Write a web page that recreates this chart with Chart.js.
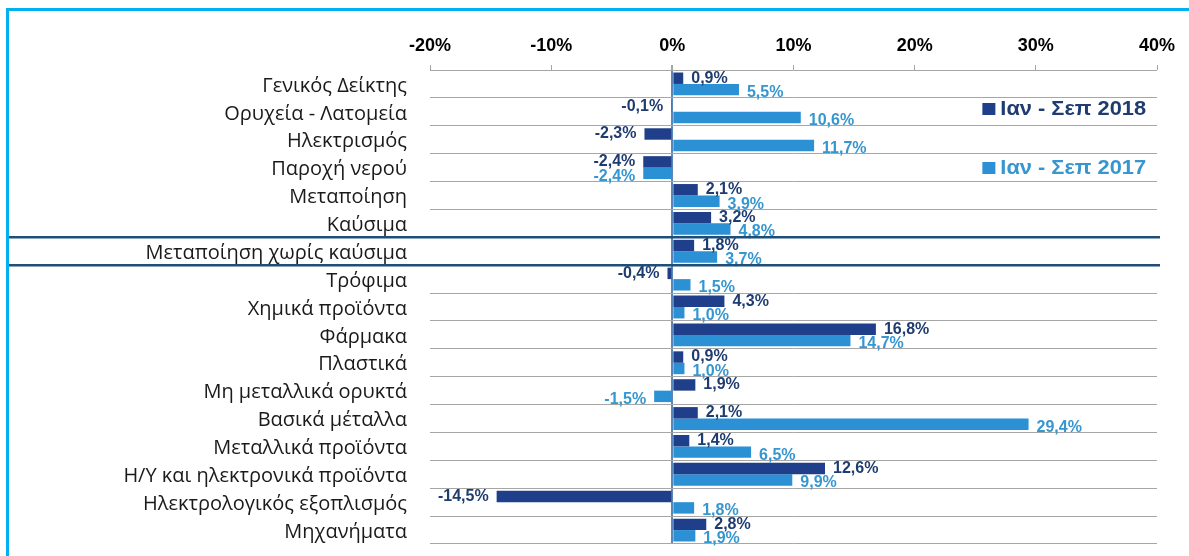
<!DOCTYPE html>
<html>
<head>
<meta charset="utf-8">
<script src="https://cdn.jsdelivr.net/npm/chart.js@4.4.0/dist/chart.umd.min.js"></script>
<style>
  body { margin: 0; background: #fff; }
  #wrap { position: relative; width: 1189px; height: 556px; overflow: hidden; }
  #frame { position: absolute; left: 6px; top: 8px; width: 1300px; height: 700px;
           border-top: 3px solid #00b0f0; border-left: 3px solid #00b0f0; pointer-events: none; }
</style>
</head>
<body>
<div id="wrap">
  <canvas id="chart" width="1189" height="556"></canvas>
  <div id="frame"></div>
</div>
<script>
const categories = [
  'Γενικός Δείκτης', 'Ορυχεία - Λατομεία', 'Ηλεκτρισμός', 'Παροχή νερού',
  'Μεταποίηση', 'Καύσιμα', 'Μεταποίηση χωρίς καύσιμα', 'Τρόφιμα',
  'Χημικά προϊόντα', 'Φάρμακα', 'Πλαστικά', 'Μη μεταλλικά ορυκτά',
  'Βασικά μέταλλα', 'Μεταλλικά προϊόντα', 'Η/Υ και ηλεκτρονικά προϊόντα',
  'Ηλεκτρολογικός εξοπλισμός', 'Μηχανήματα'
];
const values2018 = [0.9, -0.1, -2.3, -2.4, 2.1, 3.2, 1.8, -0.4, 4.3, 16.8, 0.9, 1.9, 2.1, 1.4, 12.6, -14.5, 2.8];
const values2017 = [5.5, 10.6, 11.7, -2.4, 3.9, 4.8, 3.7, 1.5, 1.0, 14.7, 1.0, -1.5, 29.4, 6.5, 9.9, 1.8, 1.9];
const seriesNames = ['Ιαν - Σεπ 2018', 'Ιαν - Σεπ 2017'];
const xTicks = [-20, -10, 0, 10, 20, 30, 40];

const barColors = ['#1f3f8b', '#2c90d5'];
const labelColors = ['#1f3c70', '#3596d0'];
const FONT = '"Liberation Sans", Arial, sans-serif';

// value labels next to the bar ends
const valueLabels = {
  id: 'valueLabels',
  afterDatasetsDraw(chart) {
    const ctx = chart.ctx;
    ctx.save();
    ctx.font = 'bold 16px ' + FONT;
    ctx.textBaseline = 'middle';
    chart.data.datasets.forEach((ds, di) => {
      const meta = chart.getDatasetMeta(di);
      meta.data.forEach((el, i) => {
        const v = ds.data[i];
        const txt = v.toFixed(1).replace('.', ',') + '%';
        ctx.fillStyle = labelColors[di];
        const y = el.y + (di === 0 ? 0 : 3);
        if (v >= 0) {
          ctx.textAlign = 'left';
          ctx.fillText(txt, el.x + 8, y);
        } else {
          ctx.textAlign = 'right';
          ctx.fillText(txt, el.x - 8, y);
        }
      });
    });
    ctx.restore();
  }
};

// dark lines around the "without fuels" row and the legend on the right
const extras = {
  id: 'extras',
  afterDraw(chart) {
    const ctx = chart.ctx;
    const y = chart.scales.y;
    ctx.save();
    ctx.strokeStyle = '#1f4e79';
    ctx.lineWidth = 2.5;
    [[5, 6], [6, 7]].forEach(([a, b]) => {
      const py = (y.getPixelForValue(a) + y.getPixelForValue(b)) / 2;
      ctx.beginPath();
      ctx.moveTo(8, py);
      ctx.lineTo(1160, py);
      ctx.stroke();
    });

    const legendY = [109, 168];
    ctx.font = 'bold 20px ' + FONT;
    ctx.textBaseline = 'middle';
    ctx.textAlign = 'right';
    seriesNames.forEach((name, i) => {
      const right = 1146;
      const sx = 1.09;
      const w = ctx.measureText(name).width * sx;
      ctx.save();
      ctx.translate(right, legendY[i]);
      ctx.scale(sx, 1);
      ctx.fillStyle = labelColors[i];
      ctx.fillText(name, 0, 0);
      ctx.restore();
      ctx.fillStyle = barColors[i];
      ctx.fillRect(right - w - 18, legendY[i] - 6, 13, 12);
    });
    ctx.restore();
  }
};

new Chart(document.getElementById('chart'), {
  type: 'bar',
  data: {
    labels: categories,
    datasets: [
      { label: seriesNames[0], data: values2018, backgroundColor: barColors[0] },
      { label: seriesNames[1], data: values2017, backgroundColor: barColors[1] }
    ]
  },
  options: {
    indexAxis: 'y',
    responsive: false,
    animation: false,
    layout: { padding: { left: 0, right: 32, top: 0, bottom: 11 } },
    datasets: { bar: { categoryPercentage: 0.82, barPercentage: 1.0 } },
    plugins: { legend: { display: false }, tooltip: { enabled: false } },
    scales: {
      x: {
        position: 'top',
        min: -20,
        max: 40,
        afterBuildTicks(scale) { scale.ticks = xTicks.map(v => ({ value: v })); },
        afterFit(scale) { scale.height = 70; },
        border: { display: false },
        grid: {
          drawOnChartArea: true,
          color: c => c.tick && c.tick.value === 0 ? '#5b86b8' : 'rgba(0,0,0,0)',
          lineWidth: c => c.tick && c.tick.value === 0 ? 2 : 1,
          tickColor: '#a6a6a6',
          tickLength: 5
        },
        ticks: {
          padding: 8,
          color: '#000',
          font: { family: FONT, size: 18, weight: 'bold' },
          callback: v => v + '%'
        }
      },
      y: {
        afterFit(scale) { scale.width = 430; },
        border: { display: false },
        grid: { offset: true, color: '#a6a6a6', lineWidth: 1, drawTicks: true,
                tickLength: 23, tickColor: 'rgba(0,0,0,0)' },
        ticks: {
          padding: 0,
          labelOffset: 2,
          color: '#1a1a1a',
          font: { family: '"Open Sans", sans-serif', size: 20 },
          autoSkip: false
        }
      }
    }
  },
  plugins: [valueLabels, extras]
});
</script>
</body>
</html>
